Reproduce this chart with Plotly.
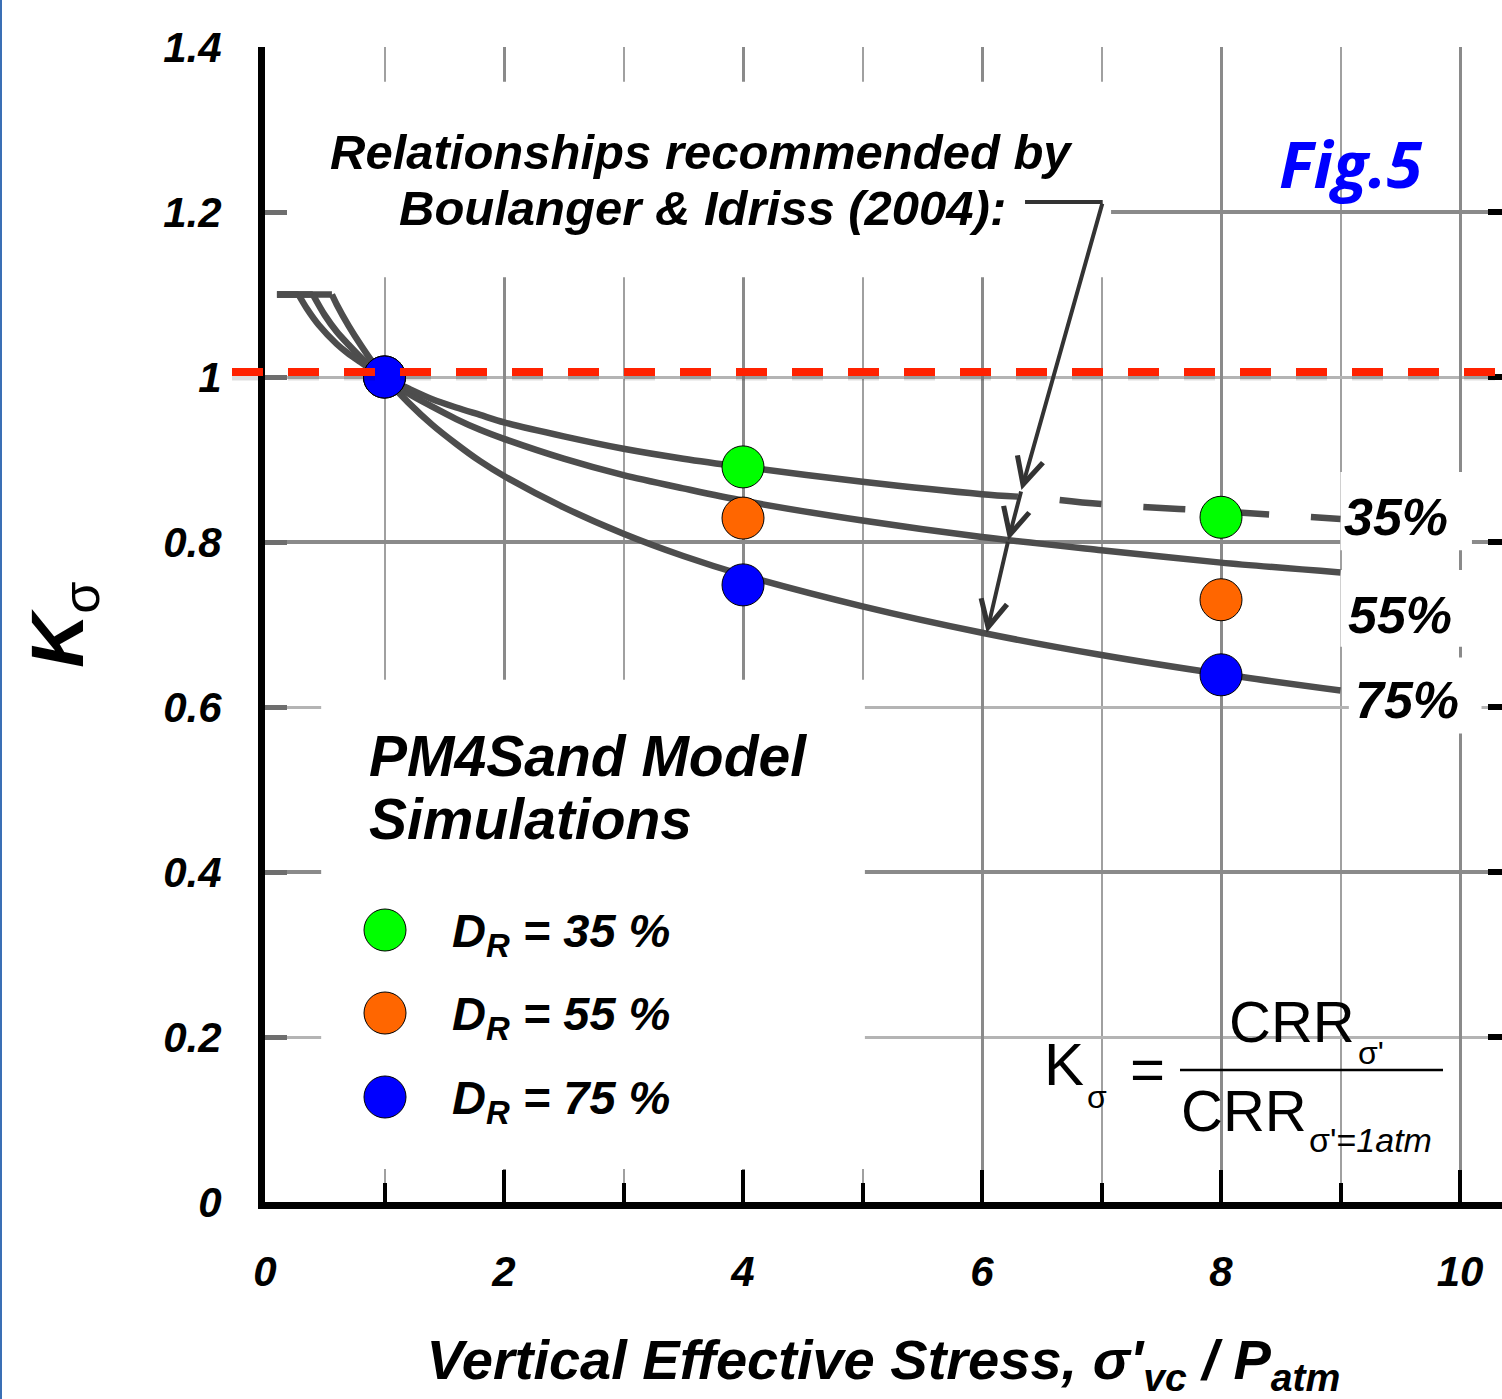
import plotly.graph_objects as go

# ---------------- data ----------------
# Boulanger & Idriss (2004) K_sigma relationships
x75 = [0.1, 0.56, 0.6, 0.7, 0.8, 0.9, 1.0, 1.2, 1.4, 1.6, 1.8, 2.0, 2.5, 3.0, 3.5, 4.0, 5.0, 6.0, 7.0, 8.0, 9.0]
k75 = [1.10, 1.10, 1.088, 1.062, 1.039, 1.018, 1.000, 0.969, 0.942, 0.919, 0.898, 0.880, 0.842, 0.810, 0.783,
       0.760, 0.722, 0.690, 0.663, 0.640, 0.620]
x55 = [0.1, 0.40, 0.5, 0.6, 0.7, 0.8, 0.9, 1.0, 1.2, 1.4, 1.6, 1.8, 2.0, 2.5, 3.0, 3.5, 4.0, 5.0, 6.0, 7.0, 8.0, 9.0]
k55 = [1.10, 1.10, 1.075, 1.055, 1.039, 1.024, 1.011, 1.000, 0.980, 0.964, 0.949, 0.936, 0.925, 0.901, 0.881,
       0.865, 0.850, 0.826, 0.806, 0.790, 0.775, 0.763]
x35 = [0.1, 0.28, 0.35, 0.45, 0.6, 0.7, 0.8, 0.9, 1.0, 1.2, 1.4, 1.6, 1.8, 2.0, 2.5, 3.0, 3.5, 4.0, 5.0, 6.0, 6.3]
k35 = [1.10, 1.10, 1.083, 1.063, 1.040, 1.028, 1.018, 1.008, 1.000, 0.986, 0.973, 0.963, 0.954, 0.945, 0.928,
       0.913, 0.901, 0.891, 0.873, 0.858, 0.855]
x35_ext = [6.65, 7.0, 8.0, 9.0]
k35_ext = [0.851, 0.846, 0.837, 0.828]

# PM4Sand model simulations
sim_x = [1, 4, 8]
sim35 = [1.0, 0.891, 0.830]
sim55 = [1.0, 0.829, 0.730]
sim75 = [1.0, 0.748, 0.639]

K_REF = 1.0
curve_labels = ["35%", "55%", "75%"]
legend_labels = ["D<sub>R</sub> = 35 %", "D<sub>R</sub> = 55 %", "D<sub>R</sub> = 75 %"]
colors = ["#00ff00", "#ff6600", "#0000ff"]

# arrow annotation anchor points (data coords)
arrow_tail = (7.01, 1.212)
arrow_tips = [(6.33, 0.863), (6.22, 0.802), (6.04, 0.690)]

# ---------------- layout geometry ----------------
W, H = 1502, 1399
L, T, B = 265, 47, 1202
PW, PH = W - L, B - T
FONT = "Liberation Sans"


def px(x):
    return (x - L) / PW


def py(y):
    return (B - y) / PH


fig = go.Figure()

CURVE = dict(color="#4d4d4d", width=6.5)
for xs, ks in [(x75, k75), (x55, k55), (x35, k35)]:
    # flat cap at 1.1, then the smooth decreasing branch
    fig.add_trace(go.Scatter(x=xs[:2], y=ks[:2], mode="lines", line=CURVE, showlegend=False, hoverinfo="skip"))
    fig.add_trace(go.Scatter(x=xs[1:], y=ks[1:], mode="lines", line=dict(CURVE, shape="spline", smoothing=0.8),
                             showlegend=False, hoverinfo="skip"))
fig.add_trace(go.Scatter(x=x35_ext, y=k35_ext, mode="lines",
                         line=dict(color="#4d4d4d", width=6.5, dash="42px,42px", shape="spline"),
                         showlegend=False, hoverinfo="skip"))

for vals, col, name in zip([sim35, sim55, sim75], colors, legend_labels):
    fig.add_trace(go.Scatter(x=sim_x, y=vals, mode="markers", name=name, yaxis="y2",
                             marker=dict(size=42, color=col, line=dict(color="black", width=1)),
                             showlegend=False))

# ---------------- white label backgrounds (cover grid, below traces) ----------------
boxes = [
    (0.05, 7.08, 1.121, 1.358),
    (0.47, 5.02, 0.040, 0.633),
    (9.00, 10.10, 0.790, 0.885),
    (9.00, 10.10, 0.673, 0.766),
    (9.07, 10.18, 0.568, 0.660),
]
for x0, x1, y0, y1 in boxes:
    fig.add_shape(type="rect", xref="x", yref="y", x0=x0, x1=x1, y0=y0, y1=y1,
                  fillcolor="white", line=dict(width=0), layer="between")

# red reference line at K_sigma = 1 (with a soft shadow)
fig.add_shape(type="line", xref="paper", yref="y", x0=px(232), x1=1.0,
              ysizemode="pixel", yanchor=K_REF, y0=1, y1=1,
              line=dict(color="rgba(0,0,0,0.13)", width=9, dash="31px,25px"), layer="above")
fig.add_shape(type="line", xref="paper", yref="y", x0=px(232), x1=1.0,
              ysizemode="pixel", yanchor=K_REF, y0=5, y1=5,
              line=dict(color="#ff2200", width=8, dash="31px,25px"), layer="above")

# leader from text to arrows
fig.add_shape(type="line", xref="x", yref="y", x0=6.36, x1=arrow_tail[0], y0=arrow_tail[1], y1=arrow_tail[1],
              line=dict(color="#333333", width=4), layer="above")
tails = [arrow_tail] + arrow_tips[:-1]
for (tx, ty), (hx, hy) in zip(tails, arrow_tips):
    fig.add_annotation(x=hx, y=hy, ax=tx, ay=ty, xref="x", yref="y", axref="x", ayref="y",
                       text="", showarrow=True, arrowhead=5, arrowsize=1.3, arrowwidth=4,
                       arrowcolor="#333333", standoff=0)


def txt(text, x, y, size, xanchor="center", weight="bold", style="italic", color="black", family=FONT):
    fig.add_annotation(text=text, x=px(x), y=py(y), xref="paper", yref="paper",
                       xanchor=xanchor, yanchor="middle", showarrow=False,
                       font=dict(family=family, size=size, color=color, weight=weight, style=style))


txt("Relationships recommended by", 701, 152, 49)
txt("Boulanger & Idriss (2004):", 702, 208, 49)
txt("Fig.5", 1350, 163, 65, color="#0000ff", family="Open Sans")

for lab, (cx, cy) in zip(curve_labels, [(1396, 517), (1400, 615), (1407, 700)]):
    txt(lab, cx, cy, 52)

txt("PM4Sand Model", 367, 756, 57, xanchor="left")
txt("Simulations", 367, 819, 57, xanchor="left")

for lab, col, cy in zip(legend_labels, colors, [930, 1013, 1097]):
    fig.add_shape(type="circle", xref="paper", yref="paper",
                  xsizemode="pixel", ysizemode="pixel", xanchor=px(385), yanchor=py(cy),
                  x0=-21, x1=21, y0=-21, y1=21,
                  fillcolor=col, line=dict(color="black", width=1), layer="above")
    txt(lab, 450, cy + 4, 47, xanchor="left")

# formula K_sigma = CRR_sigma' / CRR_sigma'=1atm
txt("K", 1064, 1064, 60, weight="normal", style="normal")
txt("σ", 1097, 1097, 32, weight="normal", style="normal")
txt("=", 1147, 1069, 60, weight="normal", style="normal")
txt("CRR", 1292, 1022, 58, weight="normal", style="normal")
txt("σ'", 1371, 1053, 32, weight="normal", style="normal")
txt("CRR", 1244, 1110, 58, weight="normal", style="normal")
txt("σ'=<i>1atm</i>", 1370, 1140, 34, weight="normal", style="normal")
fig.add_shape(type="line", xref="paper", yref="paper", x0=px(1180), x1=px(1443), y0=py(1070), y1=py(1070),
              line=dict(color="black", width=2.5), layer="above")

# thin blue frame line at the left edge of the picture
fig.add_shape(type="line", xref="paper", yref="paper", x0=px(1), x1=px(1), y0=py(W), y1=py(0),
              line=dict(color="#3a6fb5", width=2), layer="above")

TICKFONT = dict(family=FONT, size=42, weight="bold", style="italic", color="black")
XMAX = PW / 119.5

fig.update_layout(
    width=W, height=H,
    margin=dict(l=L, r=0, t=T, b=H - B, autoexpand=False),
    paper_bgcolor="white", plot_bgcolor="white",
    showlegend=False,
    xaxis=dict(
        range=[0, XMAX], tick0=0, dtick=2, ticks="inside", ticklen=32, tickwidth=4, tickcolor="black",
        showline=True, linewidth=7, linecolor="black", zeroline=False,
        showgrid=True, gridcolor="#8a8a8a", gridwidth=3,
        minor=dict(dtick=1, ticks="inside", ticklen=19, tickwidth=4, tickcolor="black",
                   showgrid=True, gridcolor="#a0a0a0", gridwidth=1.5),
        tickfont=TICKFONT, ticklabelstandoff=27,
        title=dict(text="Vertical Effective Stress, σ'<sub>vc</sub> / P<sub>atm</sub>",
                   font=dict(family=FONT, size=56, weight="bold", style="italic", color="black"),
                   standoff=60),
    ),
    xaxis2=dict(
        overlaying="x", side="top", anchor="y", range=[0, XMAX], tick0=0, dtick=2,
        ticks="inside", ticklen=16, tickwidth=4, tickcolor="black",
        minor=dict(dtick=1, ticks="inside", ticklen=8, tickwidth=4, tickcolor="black", showgrid=False),
        showline=True, linewidth=7, linecolor="black", showticklabels=False, showgrid=False, zeroline=False,
    ),
    yaxis=dict(
        range=[0, 1.4], tick0=0, dtick=0.2, ticks="inside", ticklen=22, tickwidth=5, tickcolor="#6e6e6e",
        showline=True, linewidth=7, linecolor="black", zeroline=False, showgrid=False,
        tickfont=TICKFONT, ticklabelstandoff=28,
        title=dict(text="<b><i>K</i></b><sub>σ</sub>",
                   font=dict(family=FONT, size=75, color="black"), standoff=57),
    ),
    yaxis2=dict(
        overlaying="y", side="right", anchor="x", range=[0, 1.4], tick0=0, dtick=0.4,
        ticks="inside", ticklen=14, tickwidth=6, tickcolor="black", showticklabels=False,
        showline=False, zeroline=False,
        showgrid=True, gridcolor="#8a8a8a", gridwidth=3.5,
        minor=dict(dtick=0.2, ticks="inside", ticklen=14, tickwidth=6, tickcolor="black",
                   showgrid=True, gridcolor="#b4b4b4", gridwidth=3),
    ),
)

fig.write_html("out.html", config={"displayModeBar": False},
               post_script="document.body.style.margin='0';")
